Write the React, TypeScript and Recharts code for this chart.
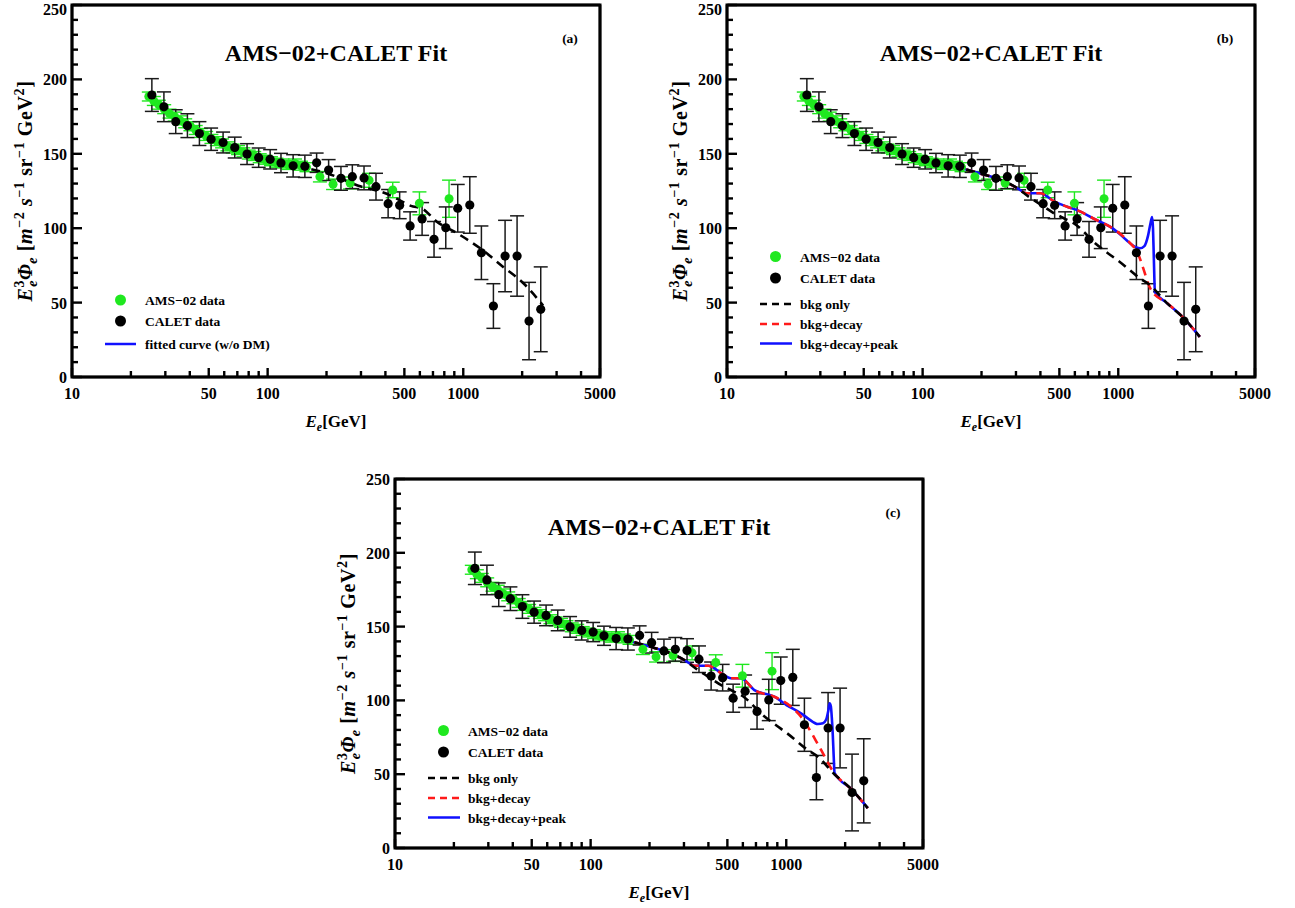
import React from 'react'
import { ComposedChart, XAxis, YAxis, Scatter, Line, ErrorBar } from 'recharts'

// AMS-02 electrons, E^3 * flux
const amsEnergy = [24.7, 26.2, 27.8, 29.6, 31.5, 33.5, 35.6, 37.9, 40.3, 42.9, 45.6, 48.5, 51.6, 55.0, 58.5, 62.3, 66.3, 70.6, 75.2, 80.1, 85.4, 91.1, 97.3, 104, 111, 119, 128, 138, 148, 158, 185, 216, 264, 330, 436, 597, 846]
const amsFlux = [188.5, 185.5, 183, 180, 177, 175, 172.5, 170.5, 168.5, 166, 164, 162, 160, 158.5, 157, 155, 153.5, 152.5, 151, 149.5, 148.5, 147, 146, 145, 144, 143.5, 142.5, 143.5, 142, 141, 134.6, 129.5, 130.4, 132.2, 125.7, 116.7, 119.8]
const amsErr = [3, 3, 3, 3, 3, 3, 3, 3, 3, 3, 3, 3, 3, 3, 3, 3, 3, 3, 3, 3, 3, 3, 3, 3, 3, 3, 3, 3, 3, 3, 3.5, 3.5, 4, 4.7, 5.2, 7.7, 12.5]

// CALET electrons + positrons
const caletEnergy = [25.6, 29.5, 33.9, 38.9, 44.8, 51.4, 59.2, 67.9, 78.5, 90.0, 103, 117, 135, 155, 178, 205, 237, 271, 311, 358, 413, 473, 535, 616, 709, 814, 937, 1080, 1238, 1426, 1636, 1884, 2169, 2489]
const caletFlux = [189.5, 181.6, 171.6, 168.9, 163.6, 159.8, 157.6, 154.2, 149.8, 147.4, 146.3, 143.8, 141.9, 141.6, 144, 139.1, 133.5, 134.6, 133.8, 127.9, 116.5, 115.4, 101.5, 106.2, 92.5, 100.3, 113.4, 115.6, 83.5, 47.7, 81.3, 81.3, 37.6, 45.5]
const caletErr = [11, 10, 8, 8, 8, 7.5, 7, 7, 7, 6.5, 6.5, 6.5, 7.5, 7.5, 6.5, 7, 8, 8, 8, 9, 9.5, 9, 9.5, 11, 12, 14, 16, 19, 18, 15, 24, 27, 26, 28.5]

// panel (a) fitted curve
const fitEnergy = [25, 30, 40, 50, 70, 100, 150, 200, 300, 400, 470, 540, 620, 730, 920, 1220, 1600, 2030, 2560]
const fitFlux = [189, 181, 168, 161, 153, 147, 141, 137, 128, 123.5, 119, 115, 113, 104.5, 97, 86.5, 74, 63, 48]

// panels (b), (c): background only
const bkgEnergy = [25, 30, 40, 50, 70, 100, 150, 200, 250, 300, 350, 400, 470, 540, 612, 661, 745, 870, 1015, 1288, 1449, 1762, 2145, 2611]
const bkgFlux = [189, 181, 168, 161, 153, 147, 141, 136.5, 132.5, 127.5, 121, 116, 110, 106, 102, 98, 91, 84, 77.5, 66.4, 61.9, 50, 40, 27]

// panel (b): bkg + decay, bkg + decay + peak
const decayBEnergy = [25, 30, 40, 50, 70, 100, 150, 200, 250, 300, 340, 400, 470, 548, 620, 773, 907, 1050, 1150, 1250, 1350, 1420, 1480, 1762, 2145, 2611]
const decayBFlux = [189, 181, 168, 161, 153, 147, 141, 136.5, 132.5, 127.5, 123.5, 123.5, 118, 114.4, 112, 105.5, 101, 95, 90, 84, 72, 63, 58, 50, 40, 27]
const peakBEnergy = [25, 30, 40, 50, 70, 100, 150, 200, 250, 300, 340, 400, 470, 548, 620, 773, 907, 1000, 1100, 1200, 1290, 1360, 1420, 1460, 1490, 1505, 1520, 1540, 1762, 2145, 2611]
const peakBFlux = [189, 181, 168, 161, 153, 147, 141, 136.5, 132.5, 127.5, 123.5, 123.5, 118, 114.4, 112, 105.5, 101, 97, 92, 88, 86.5, 88, 95, 103, 107.5, 100, 80, 57, 50, 40, 27]

// panel (c): bkg + decay, bkg + decay + peak
const decayCEnergy = [25, 30, 40, 50, 70, 100, 150, 200, 250, 300, 340, 400, 470, 520, 587, 687, 869, 1059, 1189, 1288, 1400, 1507, 1600, 1694, 1762, 2145, 2611]
const decayCFlux = [189, 181, 168, 161, 153, 147, 141, 136.5, 132.5, 127.5, 123.5, 123.5, 118, 115, 115, 107, 102.5, 95.7, 89, 82.2, 74, 66.4, 60, 54, 50.6, 40, 27]
const peakCEnergy = [25, 30, 40, 50, 70, 100, 150, 200, 250, 300, 340, 400, 470, 520, 587, 687, 869, 1000, 1189, 1300, 1449, 1540, 1600, 1640, 1665, 1690, 1710, 1730, 1748, 1765, 2145, 2611]
const peakCFlux = [189, 181, 168, 161, 153, 147, 141, 136.5, 132.5, 127.5, 123.5, 123.5, 118, 115, 115, 107, 102.5, 97, 91.3, 87.5, 84, 84.5, 87, 93, 98, 96, 88, 76, 62, 51, 40, 27]

const xTicks = [10, 20, 30, 40, 50, 60, 70, 80, 90, 100, 200, 300, 400, 500, 600, 700, 800, 900, 1000, 2000, 3000, 4000, 5000]
const xLabels = [10, 50, 100, 500, 1000, 5000]
const yTicks = [0, 10, 20, 30, 40, 50, 60, 70, 80, 90, 100, 110, 120, 130, 140, 150, 160, 170, 180, 190, 200, 210, 220, 230, 240, 250]
const yLabels = [0, 50, 100, 150, 200, 250]

const SERIF = '"Liberation Serif", "Times New Roman", serif'
const GREEN = '#1fe81f'
const RED = '#ff1a1a'
const BLUE = '#1010ff'

const pts = (xs: number[], ys: number[], errs?: number[]) =>
  xs.map((x, i) => ({ x, y: ys[i], err: errs ? errs[i] : 0 }))

const amsData = pts(amsEnergy, amsFlux, amsErr)
const caletData = pts(caletEnergy, caletFlux, caletErr)

const W = 620
const H = 455
const PL = 72
const PT = 15
const PW = 528

const BottomTick = (p: any) => {
  const major = xLabels.includes(p.payload.value)
  return (
    <g>
      <line x1={p.x} x2={p.x} y1={p.y - 1} y2={p.y - (major ? 9 : 6)} stroke="#000" strokeWidth={2.4} />
      {major && (
        <text x={p.x} y={p.y + 22} textAnchor="middle" fontFamily={SERIF} fontWeight="bold" fontSize={16} fill="#000">
          {p.payload.value}
        </text>
      )}
    </g>
  )
}
const TopTick = (p: any) => {
  const major = xLabels.includes(p.payload.value)
  return <line x1={p.x} x2={p.x} y1={p.y + 1} y2={p.y + (major ? 9 : 6)} stroke="#000" strokeWidth={2.4} />
}
const leftTickFor = (shiftTop: boolean) => (p: any) => {
  const major = yLabels.includes(p.payload.value)
  const dy = shiftTop && p.payload.value === 250 ? 10 : 6
  return (
    <g>
      <line x1={p.x + 1} x2={p.x + (major ? 10 : 6)} y1={p.y} y2={p.y} stroke="#000" strokeWidth={2.4} />
      {major && (
        <text x={p.x - 5} y={p.y + dy} textAnchor="end" fontFamily={SERIF} fontWeight="bold" fontSize={16} fill="#000">
          {p.payload.value}
        </text>
      )}
    </g>
  )
}
const RightTick = (p: any) => {
  const major = yLabels.includes(p.payload.value)
  return <line x1={p.x - 1} x2={p.x - (major ? 10 : 6)} y1={p.y} y2={p.y} stroke="#000" strokeWidth={2.4} />
}

type Curve = { name: string; xs: number[]; ys: number[]; color: string; dash?: string }

function Panel({ left, top, plotH, tag, curves, legend, atPageTop }: { left: number; top: number; plotH: number; tag: string; curves: Curve[]; legend: 'fit' | 'dm'; atPageTop: boolean }) {
  const axisLine = { stroke: '#000', strokeWidth: 2.5 }
  const cy = PT + plotH / 2
  const LeftTick = leftTickFor(atPageTop)
  const ly = (v: number) => PT - 5 + v
  return (
    <div style={{ position: 'absolute', left, top, width: W, height: H }}>
      <ComposedChart width={W} height={H} margin={{ top: PT - 1, left: PL - 1, right: W - PL - PW - 1, bottom: H - PT - plotH - 1 }}>
        <XAxis xAxisId="b" dataKey="x" type="number" scale="log" domain={[10, 5000]} ticks={xTicks} interval={0} stroke="#000"
          tickSize={0} tickMargin={0} tickLine={false} tick={(p: any) => <BottomTick {...p} />} axisLine={axisLine} height={1} />
        <XAxis xAxisId="t" orientation="top" dataKey="x" type="number" scale="log" domain={[10, 5000]} ticks={xTicks} interval={0} stroke="#000"
          tickSize={0} tickMargin={0} tickLine={false} tick={(p: any) => <TopTick {...p} />} axisLine={axisLine} height={1} />
        <YAxis yAxisId="l" dataKey="y" type="number" domain={[0, 250]} ticks={yTicks} interval={0} stroke="#000"
          tickSize={0} tickMargin={0} tickLine={false} tick={(p: any) => <LeftTick {...p} />} axisLine={axisLine} width={1} />
        <YAxis yAxisId="r" orientation="right" dataKey="y" type="number" domain={[0, 250]} ticks={yTicks} interval={0} stroke="#000"
          tickSize={0} tickMargin={0} tickLine={false} tick={(p: any) => <RightTick {...p} />} axisLine={axisLine} width={1} />
        <Scatter xAxisId="b" yAxisId="l" name="AMS-02 data" data={amsData} isAnimationActive={false}
          shape={(p: any) => <circle cx={p.cx} cy={p.cy} r={4.5} fill={GREEN} />}>
          <ErrorBar dataKey="err" direction="y" width={7} stroke={GREEN} strokeWidth={1.4} isAnimationActive={false} />
        </Scatter>
        <Scatter xAxisId="b" yAxisId="l" name="CALET data" data={caletData} isAnimationActive={false}
          shape={(p: any) => <circle cx={p.cx} cy={p.cy} r={4.6} fill="#000" />}>
          <ErrorBar dataKey="err" direction="y" width={7} stroke="#1a1a1a" strokeWidth={1.5} isAnimationActive={false} />
        </Scatter>
        {curves.map((c) => (
          <Line key={c.name} xAxisId="b" yAxisId="l" data={pts(c.xs, c.ys)} dataKey="y" type="monotone"
            stroke={c.color} strokeWidth={2.6} strokeDasharray={c.dash} dot={false} isAnimationActive={false} />
        ))}
      </ComposedChart>
      <svg width={W} height={H} style={{ position: 'absolute', left: 0, top: 0, pointerEvents: 'none' }} fontFamily={SERIF} fontWeight="bold">
        <rect x={PL} y={PT} width={PW} height={plotH} fill="none" stroke="#000" strokeWidth={3} />
        <text x={PL + PW / 2} y={ly(61)} textAnchor="middle" fontSize={24}>AMS−02+CALET Fit</text>
        <text x={570} y={ly(43)} textAnchor="middle" fontSize={13.5}>{tag}</text>
        <text x={PL + PW / 2} y={PT + plotH + 50} textAnchor="middle" fontSize={17}>
          <tspan fontStyle="italic">E</tspan>
          <tspan fontStyle="italic" fontSize={12} dy={4}>e</tspan>
          <tspan dy={-4}>[GeV]</tspan>
        </text>
        <text transform={`translate(32, ${cy}) rotate(-90)`} textAnchor="middle" fontSize={20} letterSpacing={0.6}>
          <tspan fontStyle="italic">E</tspan>
          <tspan fontSize={14} dy={-8}>3</tspan>
          <tspan fontSize={14} fontStyle="italic" dx={-7} dy={13}>e</tspan>
          <tspan fontStyle="italic" dy={-5}>Φ</tspan>
          <tspan fontSize={14} fontStyle="italic" dy={5}>e</tspan>
          <tspan dy={-5}> [</tspan>
          <tspan fontStyle="italic">m</tspan>
          <tspan fontSize={14} dy={-8}>−2</tspan>
          <tspan fontStyle="italic" dy={8}> s</tspan>
          <tspan fontSize={14} dy={-8}>−1</tspan>
          <tspan dy={8}> sr</tspan>
          <tspan fontSize={14} dy={-8}>−1</tspan>
          <tspan dy={8}> GeV</tspan>
          <tspan fontSize={14} dy={-8}>2</tspan>
          <tspan dy={8}>]</tspan>
        </text>
        {legend === 'fit' ? (
          <g fontSize={13.5}>
            <circle cx={120.5} cy={ly(300)} r={5.5} fill={GREEN} />
            <text x={145} y={ly(305)}>AMS−02 data</text>
            <circle cx={120.5} cy={ly(321)} r={5.5} fill="#000" />
            <text x={145} y={ly(326)}>CALET data</text>
            <line x1={105} x2={136} y1={ly(344)} y2={ly(344)} stroke={BLUE} strokeWidth={2.5} />
            <text x={145} y={ly(349)}>fitted curve (w/o DM)</text>
          </g>
        ) : (
          <g fontSize={13.5}>
            <circle cx={120.5} cy={ly(256.5)} r={5.5} fill={GREEN} />
            <text x={145} y={ly(261.5)}>AMS−02 data</text>
            <circle cx={120.5} cy={ly(278)} r={5.5} fill="#000" />
            <text x={145} y={ly(283)}>CALET data</text>
            <line x1={105} x2={137} y1={ly(304)} y2={ly(304)} stroke="#000" strokeWidth={2.5} strokeDasharray="7 5" />
            <text x={145} y={ly(309)}>bkg only</text>
            <line x1={105} x2={137} y1={ly(324)} y2={ly(324)} stroke={RED} strokeWidth={2.5} strokeDasharray="7 5" />
            <text x={145} y={ly(329)}>bkg+decay</text>
            <line x1={105} x2={137} y1={ly(343.5)} y2={ly(343.5)} stroke={BLUE} strokeWidth={2.5} />
            <text x={145} y={ly(348.5)}>bkg+decay+peak</text>
          </g>
        )}
      </svg>
    </div>
  )
}

const curvesA: Curve[] = [{ name: 'fit', xs: fitEnergy, ys: fitFlux, color: '#000', dash: '9 6' }]
const curvesB: Curve[] = [
  { name: 'peak', xs: peakBEnergy, ys: peakBFlux, color: BLUE },
  { name: 'decay', xs: decayBEnergy, ys: decayBFlux, color: RED, dash: '9 6' },
  { name: 'bkg', xs: bkgEnergy, ys: bkgFlux, color: '#000', dash: '9 6' },
]
const curvesC: Curve[] = [
  { name: 'peak', xs: peakCEnergy, ys: peakCFlux, color: BLUE },
  { name: 'decay', xs: decayCEnergy, ys: decayCFlux, color: RED, dash: '9 6' },
  { name: 'bkg', xs: bkgEnergy, ys: bkgFlux, color: '#000', dash: '9 6' },
]

export default function App() {
  return (
    <div style={{ position: 'absolute', left: 0, top: 0, width: 1295, height: 908, background: '#fff', overflow: 'hidden' }}>
      <Panel left={0} top={-10} plotH={372} tag="(a)" curves={curvesA} legend="fit" atPageTop />
      <Panel left={655} top={-10} plotH={372} tag="(b)" curves={curvesB} legend="dm" atPageTop />
      <Panel left={323} top={464} plotH={369} tag="(c)" curves={curvesC} legend="dm" atPageTop={false} />
    </div>
  )
}
